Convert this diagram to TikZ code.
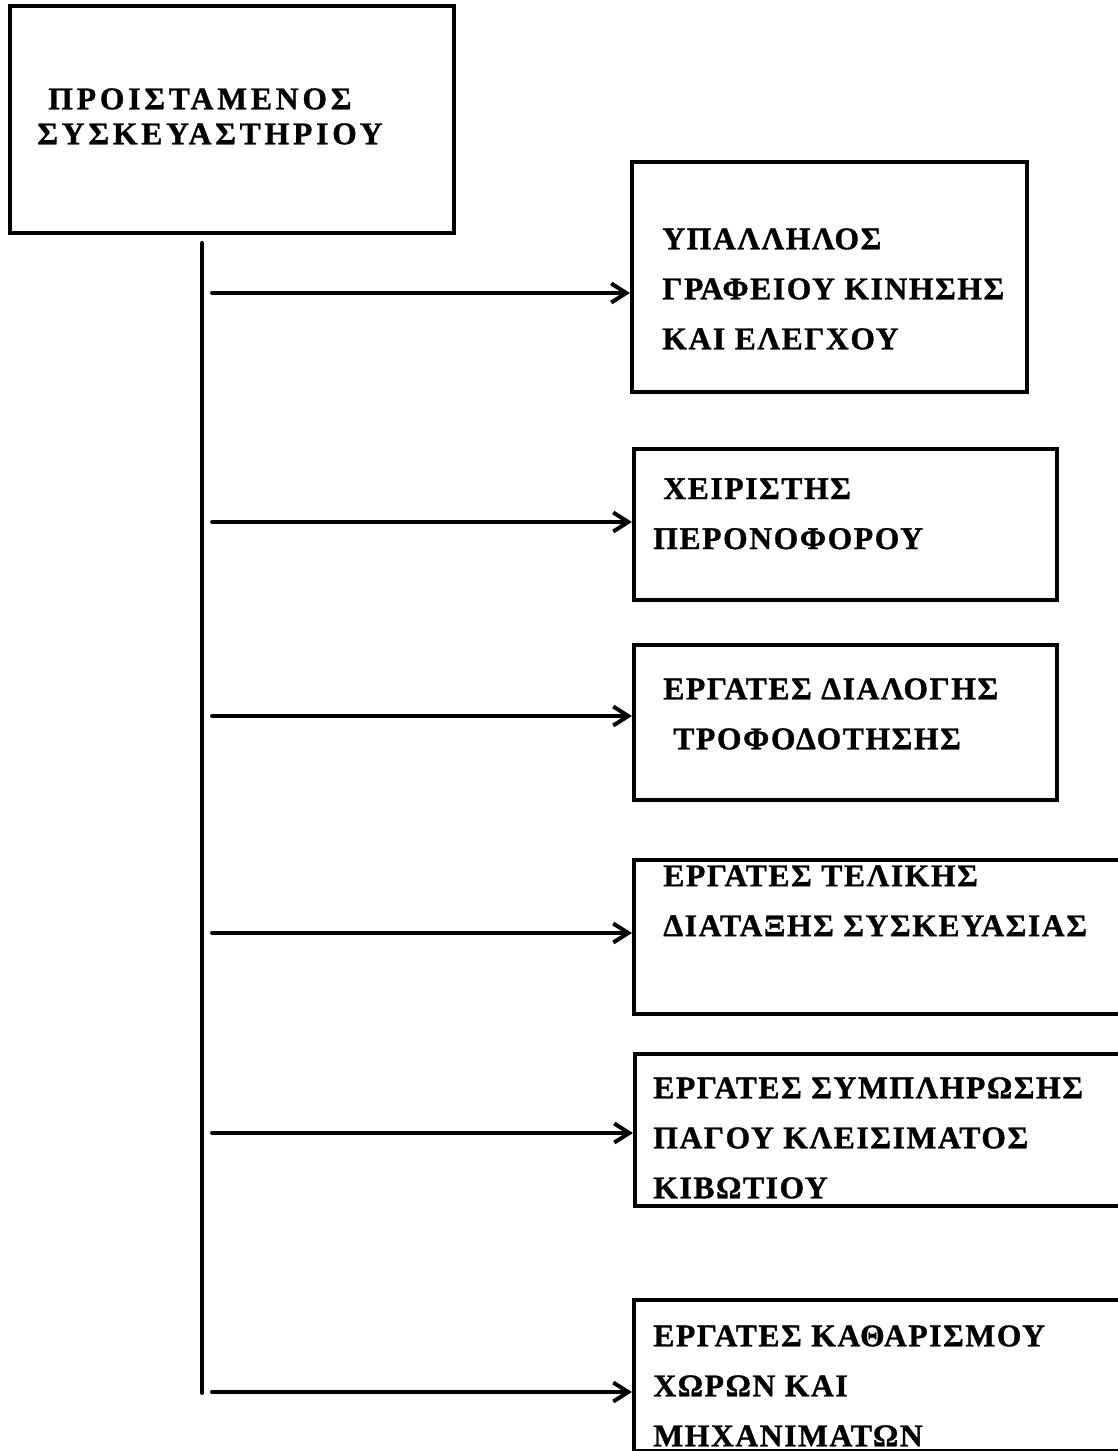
\documentclass[tikz,border=0pt]{standalone}
\usepackage{fontspec}
\setmainfont{Liberation Serif}
\newfontfamily\titlefont[LetterSpace=12,FakeBold=1]{Liberation Serif Bold}
\newfontfamily\boxfont[LetterSpace=5,FakeBold=1]{Liberation Serif Bold}
\usetikzlibrary{arrows.meta}
\tikzset{
    unit/.style={draw,line width=0.08cm,inner sep=0pt,anchor=north west},
    lbl/.style={inner sep=0pt,anchor=north west,align=left,
        font={\boxfont\fontsize{18pt}{28.45pt}\selectfont}},
    trunk/.style={line width=0.08cm,line cap=round},
    link/.style={line width=0.08cm,line cap=round,
        -{Straight Barb[length=0.3cm,width=0.38cm,line width=0.08cm]}}
}
\begin{document}
\begin{tikzpicture}[x=0.02cm,y=-0.02cm]
    \useasboundingbox (0,0) rectangle (1117,1451);
% Head
    \node[unit,minimum width=8.88cm,minimum height=4.54cm] (head) at (8,4) {};
    \node[lbl,font={\titlefont\fontsize{18pt}{19.9pt}\selectfont}] (headtxt) at (37,88)
        {\hspace*{0.22cm}ΠΡΟΙΣΤΑΜΕΝΟΣ\\ΣΥΣΚΕΥΑΣΤΗΡΙΟΥ};
% Staff
    \foreach \n/\x/\y/\w/\h/\tx/\ty/\t in {
        clerk/630/160/7.9/4.6/662/228/{ΥΠΑΛΛΗΛΟΣ\\ΓΡΑΦΕΙΟΥ ΚΙΝΗΣΗΣ\\ΚΑΙ ΕΛΕΓΧΟΥ},
        forklift/632/447/8.46/3.02/653/478/{\hspace*{0.2cm}ΧΕΙΡΙΣΤΗΣ\\ΠΕΡΟΝΟΦΟΡΟΥ},
        sorters/632/643/8.46/3.1/663/678/{ΕΡΓΑΤΕΣ ΔΙΑΛΟΓΗΣ\\\hspace*{0.2cm}ΤΡΟΦΟΔΟΤΗΣΗΣ},
        layout/632/858/9.74/3.08/663/865/{ΕΡΓΑΤΕΣ ΤΕΛΙΚΗΣ\\ΔΙΑΤΑΞΗΣ ΣΥΣΚΕΥΑΣΙΑΣ},
        filling/633/1052/9.72/3.04/653/1077/{ΕΡΓΑΤΕΣ ΣΥΜΠΛΗΡΩΣΗΣ\\ΠΑΓΟΥ ΚΛΕΙΣΙΜΑΤΟΣ\\ΚΙΒΩΤΙΟΥ},
        cleaning/632/1298/9.74/3.02/653/1325/{ΕΡΓΑΤΕΣ ΚΑΘΑΡΙΣΜΟΥ\\ΧΩΡΩΝ ΚΑΙ\\ΜΗΧΑΝΙΜΑΤΩΝ}}{
        \node[unit,minimum width=\w cm,minimum height=\h cm] (\n) at (\x,\y) {};
        \node[lbl] (\n txt) at (\tx,\ty) {\t};
    }
% Links
    \coordinate (trunktop) at (202,243);
    \coordinate (trunkend) at (202,1393);
    \draw[trunk] (trunktop) -- (trunkend);
    \foreach \n/\y in {clerk/293,forklift/522,sorters/716,layout/933,filling/1133,cleaning/1392}{
        \coordinate (from\n) at (212,\y);
        \draw[link] (from\n) -- (from\n -| \n.west);
    }
\end{tikzpicture}
\end{document}
